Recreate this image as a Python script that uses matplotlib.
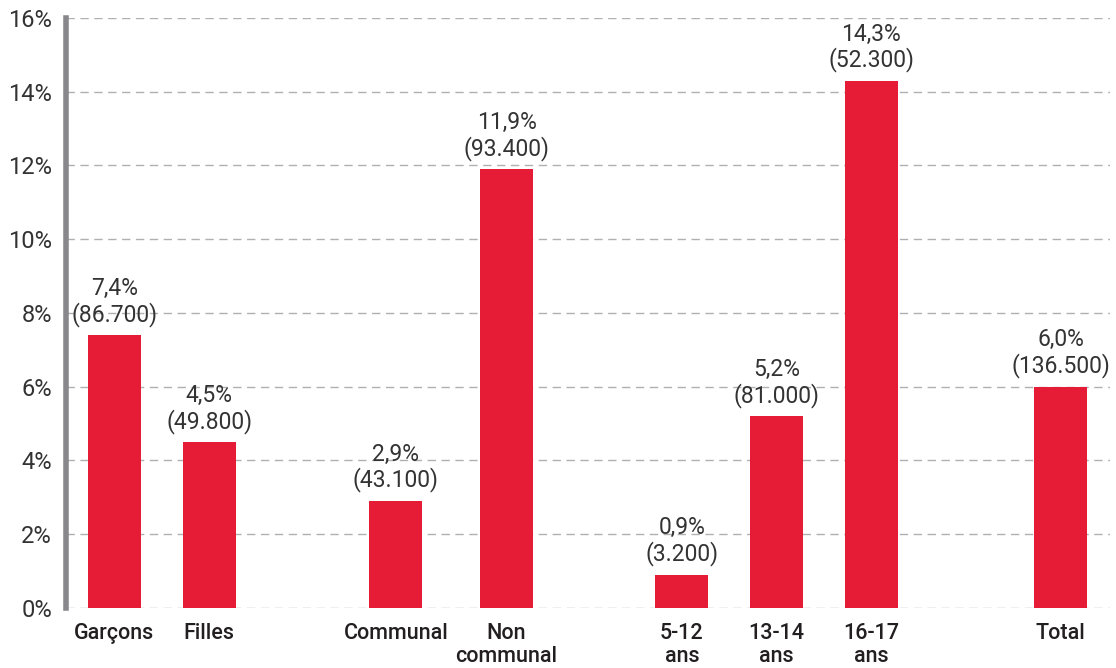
import matplotlib.pyplot as plt

# categories and values
categories = ['Garçons', 'Filles', 'Communal', 'Non\ncommunal',
              '5-12\nans', '13-14\nans', '16-17\nans', 'Total']
percent = [7.4, 4.5, 2.9, 11.9, 0.9, 5.2, 14.3, 6.0]
counts = ['86.700', '49.800', '43.100', '93.400', '3.200', '81.000', '52.300', '136.500']
yticks = [0, 2, 4, 6, 8, 10, 12, 14, 16]

# bar slots (groups separated by gaps)
xpos = [0, 1, 2.97, 4.14, 5.99, 6.99, 7.99, 9.99]

RED = '#e61c36'
TXT = '#333333'
plt.rcParams['font.family'] = ['Roboto', 'DejaVu Sans']

fig = plt.figure(figsize=(11.16, 6.68), dpi=100)
ax = fig.add_axes([0.0591, 0.0903, 0.9355, 0.8827])

ax.bar(xpos, percent, width=0.56, color=RED, zorder=3)

for x, p, c in zip(xpos, percent, counts):
    lab = ('%.1f%%' % p).replace('.', ',') + '\n(' + c + ')'
    ax.annotate(lab, (x, p), xytext=(0, 6), textcoords='offset points',
                ha='center', va='bottom', fontsize=16.5, color=TXT,
                linespacing=1.1)

ax.set_xlim(-0.512, 10.51)
ax.set_ylim(0, 16)
ax.set_yticks(yticks)
ax.set_yticklabels(['%d%%' % t for t in yticks], fontsize=17, color=TXT)
ax.set_xticks(xpos)
ax.set_xticklabels(categories, fontsize=15.5, color='#231f20', fontweight='medium',
                   linespacing=1.15, va='top')
ax.tick_params(axis='both', length=0)
ax.tick_params(axis='y', pad=10)
ax.tick_params(axis='x', pad=11)

ax.grid(axis='y', color='#b0b0b0', linestyle=(0, (6, 4)), linewidth=1.0, zorder=0)
ax.set_axisbelow(True)
for s in ['top', 'right', 'bottom']:
    ax.spines[s].set_visible(False)
ax.spines['left'].set_color('#88888c')
ax.spines['left'].set_linewidth(4)

fig.savefig('out.png', dpi=100)
